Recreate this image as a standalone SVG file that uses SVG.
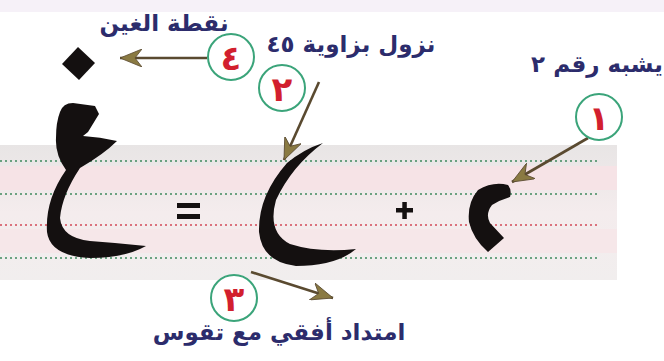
<svg xmlns="http://www.w3.org/2000/svg" width="664" height="361" viewBox="0 0 664 361">
  <style>
    .lbl { font-family: "DejaVu Sans", "Noto Sans", sans-serif; font-weight: bold; font-size: 23px; fill: #2c2c6c; direction: rtl; text-anchor: middle; }
    .num { font-family: "DejaVu Sans", "Noto Sans", sans-serif; font-weight: bold; font-size: 34px; fill: #d21f2e; text-anchor: middle; }
    .ring { fill: #ffffff; stroke: #3ba47a; stroke-width: 2; }
    .arrow { stroke: #5a4a30; stroke-width: 2.6; fill: none; marker-end: url(#head); }
    .ink { fill: #141010; }
    .dotg { stroke: #3f8a5f; stroke-width: 1.6; stroke-dasharray: 2 3; }
    .dotr { stroke: #d24a58; stroke-width: 1.6; stroke-dasharray: 2 3; }
  </style>
  <defs>
    <marker id="head" markerWidth="24" markerHeight="18" refX="22" refY="9" orient="auto" markerUnits="userSpaceOnUse">
      <path d="M0,0 L22,9 L0,18 L7,9 Z" fill="#8a7a42" stroke="#5a4a30" stroke-width="0.8"/>
    </marker>
    <linearGradient id="band" x1="0" y1="0" x2="0" y2="1">
      <stop offset="0" stop-color="#e8e5e5"/>
      <stop offset="0.5" stop-color="#f4eced"/>
      <stop offset="1" stop-color="#f1eeee"/>
    </linearGradient>
  </defs>

  <rect x="0" y="0" width="664" height="361" fill="#ffffff"/>
  <rect x="0" y="0" width="664" height="12" fill="#f6f1f8"/>

  <g id="ruled-band">
    <rect x="0" y="145" width="617" height="135" fill="url(#band)"/>
    <rect x="0" y="166" width="617" height="24" fill="#f6e3e6"/>
    <rect x="0" y="229" width="617" height="24" fill="#f6e7e9"/>
    <line class="dotg" x1="0" y1="161" x2="600" y2="161"/>
    <line class="dotg" x1="0" y1="194" x2="600" y2="194"/>
    <line class="dotr" x1="0" y1="225" x2="600" y2="225"/>
    <line class="dotg" x1="0" y1="258" x2="600" y2="258"/>
  </g>

  <g id="ghain">
    <path class="ink" d="M78,47 L95,63 L79,80 L62,64 Z"/>
    <path class="ink" d="M60,112 Q63,103 73,103 L95,106 L99,114 L88,132 L83,136 Q100,137 117,141 Q104,154 80,168 Q62,195 60,218 Q62,238 90,241 Q118,243 146,246 Q125,258 90,258 Q50,256 47,232 Q45,200 66,170 Q55,155 56,138 Q56,122 60,112 Z"/>
  </g>

  <g id="equals">
    <rect class="ink" x="177" y="203" width="23" height="5"/>
    <rect class="ink" x="177" y="214" width="23" height="5"/>
  </g>

  <g id="tail-stroke">
    <path class="ink" d="M323,143 Q292,166 276,200 Q267,232 290,244 Q318,253 356,249 Q336,266 296,266 Q262,262 259,232 Q258,196 287,163 Q304,149 323,143 Z"/>
  </g>

  <g id="plus">
    <rect class="ink" x="396" y="208" width="17" height="4.5"/>
    <rect class="ink" x="402.3" y="202" width="4.5" height="17"/>
  </g>

  <g id="head-stroke">
    <path class="ink" d="M478,190 Q493,181 508,185 Q512,190 510,197 Q500,200 492,205 Q485,214 490,223 L504,238 L488,252 Q473,239 469,222 Q467,203 478,190 Z"/>
  </g>

  <g id="connectors">
    <line class="arrow" x1="207" y1="58" x2="120" y2="58"/>
    <line class="arrow" x1="319" y1="82" x2="284" y2="160"/>
    <line class="arrow" x1="588" y1="138" x2="512" y2="182"/>
    <line class="arrow" x1="251" y1="272" x2="333" y2="298"/>
  </g>

  <g id="step4">
    <circle class="ring" cx="231" cy="57" r="23"/>
    <text class="num" x="231" y="70">٤</text>
    <text class="lbl" x="164" y="31">نقطة الغين</text>
  </g>
  <g id="step2">
    <circle class="ring" cx="282" cy="88" r="23"/>
    <text class="num" x="282" y="101">٢</text>
    <text class="lbl" x="351" y="52">نزول بزاوية ٤٥</text>
  </g>
  <g id="step1">
    <circle class="ring" cx="599" cy="117" r="23"/>
    <text class="num" x="599" y="130">١</text>
    <text class="lbl" x="597" y="72">يشبه رقم ٢</text>
  </g>
  <g id="step3">
    <circle class="ring" cx="234" cy="298" r="23"/>
    <text class="num" x="234" y="311">٣</text>
    <text class="lbl" x="279" y="340">امتداد أفقي مع تقوس</text>
  </g>
</svg>
